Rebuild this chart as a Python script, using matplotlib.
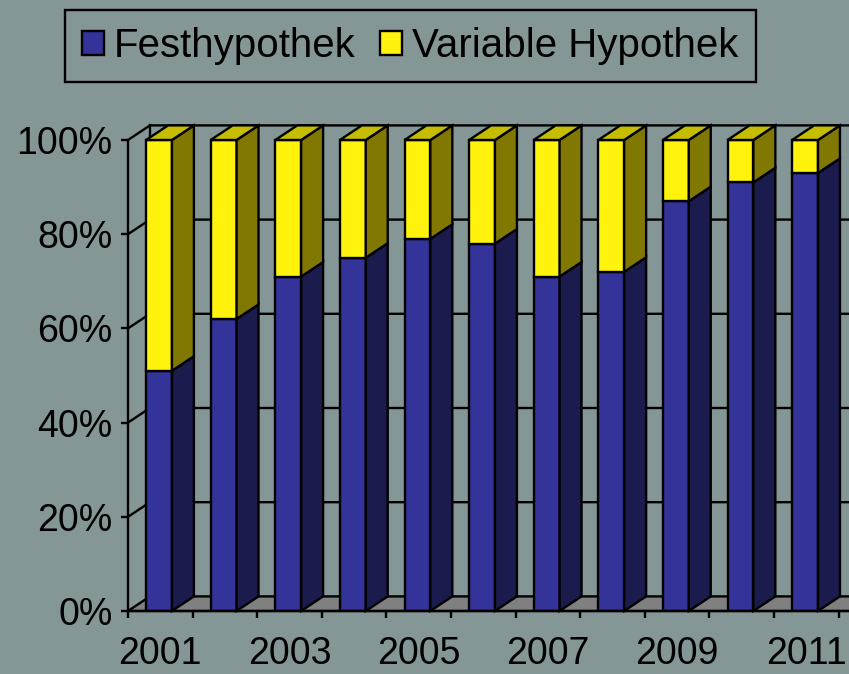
import matplotlib.pyplot as plt
from matplotlib.patches import Patch

plt.rcParams['font.family'] = ['Liberation Sans', 'DejaVu Sans']

# Data (share of mortgage types, %)
years = ['2001', '2002', '2003', '2004', '2005', '2006', '2007', '2008', '2009', '2010', '2011']
fest = [51, 62, 71, 75, 79, 78, 71, 72, 87, 91, 93]
variable = [49, 38, 29, 25, 21, 22, 29, 28, 13, 9, 7]
yticks = [0, 20, 40, 60, 80, 100]

# Colours
bg = '#859697'
blue, blue_side = '#333399', '#1b1b4d'
yellow, yellow_side, yellow_top = '#fff20d', '#807800', '#c4bd00'
floor_col = '#808080'

# 3D look
dx, dy = 0.34, 3.1      # depth offset (category units, percent)
x0off, bw = 0.28, 0.40  # front face start inside category, front width
lw = 1.7
xmax = 11.16

fig = plt.figure(figsize=(8.49, 6.74), dpi=100, facecolor=bg)
ax = fig.add_axes([128 / 849, 63 / 674, 721 / 849, 471 / 674], facecolor=bg)
ax.set_xlim(0, xmax)
ax.set_ylim(0, 100)

# floor
ax.fill([0, xmax + 1, xmax + 1 + dx, dx], [0, 0, dy, dy], facecolor=floor_col,
        edgecolor='black', lw=lw, zorder=1, clip_on=False)

# back wall / side wall gridlines
for v in yticks[1:]:
    ax.plot([0, dx, xmax + 1], [v, v + dy, v + dy], color='black', lw=lw,
            zorder=1, clip_on=False, solid_joinstyle='miter')
ax.plot([dx, dx], [dy, 100 + dy], color='black', lw=lw, zorder=1, clip_on=False)

# stacked bars with side and top faces
totals = [f + v for f, v in zip(fest, variable)]
fpct = [f / t * 100 for f, t in zip(fest, totals)]
for i in range(len(years)):
    xl = i + x0off
    xr = xl + bw
    f = fpct[i]
    ax.bar(xl, f, width=bw, align='edge', color=blue, edgecolor='black', lw=lw, zorder=3)
    ax.bar(xl, 100 - f, bottom=f, width=bw, align='edge', color=yellow,
           edgecolor='black', lw=lw, zorder=3, clip_on=False)
    ax.fill([xr, xr + dx, xr + dx, xr], [0, dy, f + dy, f], facecolor=blue_side,
            edgecolor='black', lw=lw, zorder=3, clip_on=False)
    ax.fill([xr, xr + dx, xr + dx, xr], [f, f + dy, 100 + dy, 100], facecolor=yellow_side,
            edgecolor='black', lw=lw, zorder=3, clip_on=False)
    ax.fill([xl, xr, xr + dx, xl + dx], [100, 100, 100 + dy, 100 + dy], facecolor=yellow_top,
            edgecolor='black', lw=lw, zorder=3, clip_on=False)

# axes
for s in ['top', 'right']:
    ax.spines[s].set_visible(False)
ax.spines['left'].set_linewidth(lw)
ax.spines['bottom'].set_linewidth(lw)
ax.spines['left'].set_zorder(4)
ax.spines['bottom'].set_zorder(4)

ax.set_yticks(yticks)
ax.set_yticklabels([f'{v}%' for v in yticks])
ax.tick_params(axis='y', length=5, width=lw, pad=6, labelsize=27)

ax.set_xticks(range(len(years) + 1))
ax.set_xticklabels([])
ax.tick_params(axis='x', which='major', length=5, width=lw)
ax.set_xticks([i + 0.5 for i in range(0, len(years), 2)], minor=True)
ax.set_xticklabels(years[::2], minor=True)
ax.tick_params(axis='x', which='minor', length=0, pad=18, labelsize=27)

# legend
handles = [Patch(facecolor=blue, edgecolor='black', lw=lw, label='Festhypothek'),
           Patch(facecolor=yellow, edgecolor='black', lw=lw, label='Variable Hypothek')]
leg = fig.legend(handles=handles, ncol=2, loc='upper left',
                 bbox_to_anchor=(65 / 849, 1 - 10 / 674), borderaxespad=0, fontsize=29,
                 handlelength=0.55, handleheight=0.55, handletextpad=0.25,
                 columnspacing=0.6, borderpad=0.42, frameon=True, fancybox=False)
leg.get_frame().set_facecolor(bg)
leg.get_frame().set_edgecolor('black')
leg.get_frame().set_linewidth(lw)
leg.get_frame().set_alpha(1)

fig.savefig('out.png', dpi=100, facecolor=bg)
